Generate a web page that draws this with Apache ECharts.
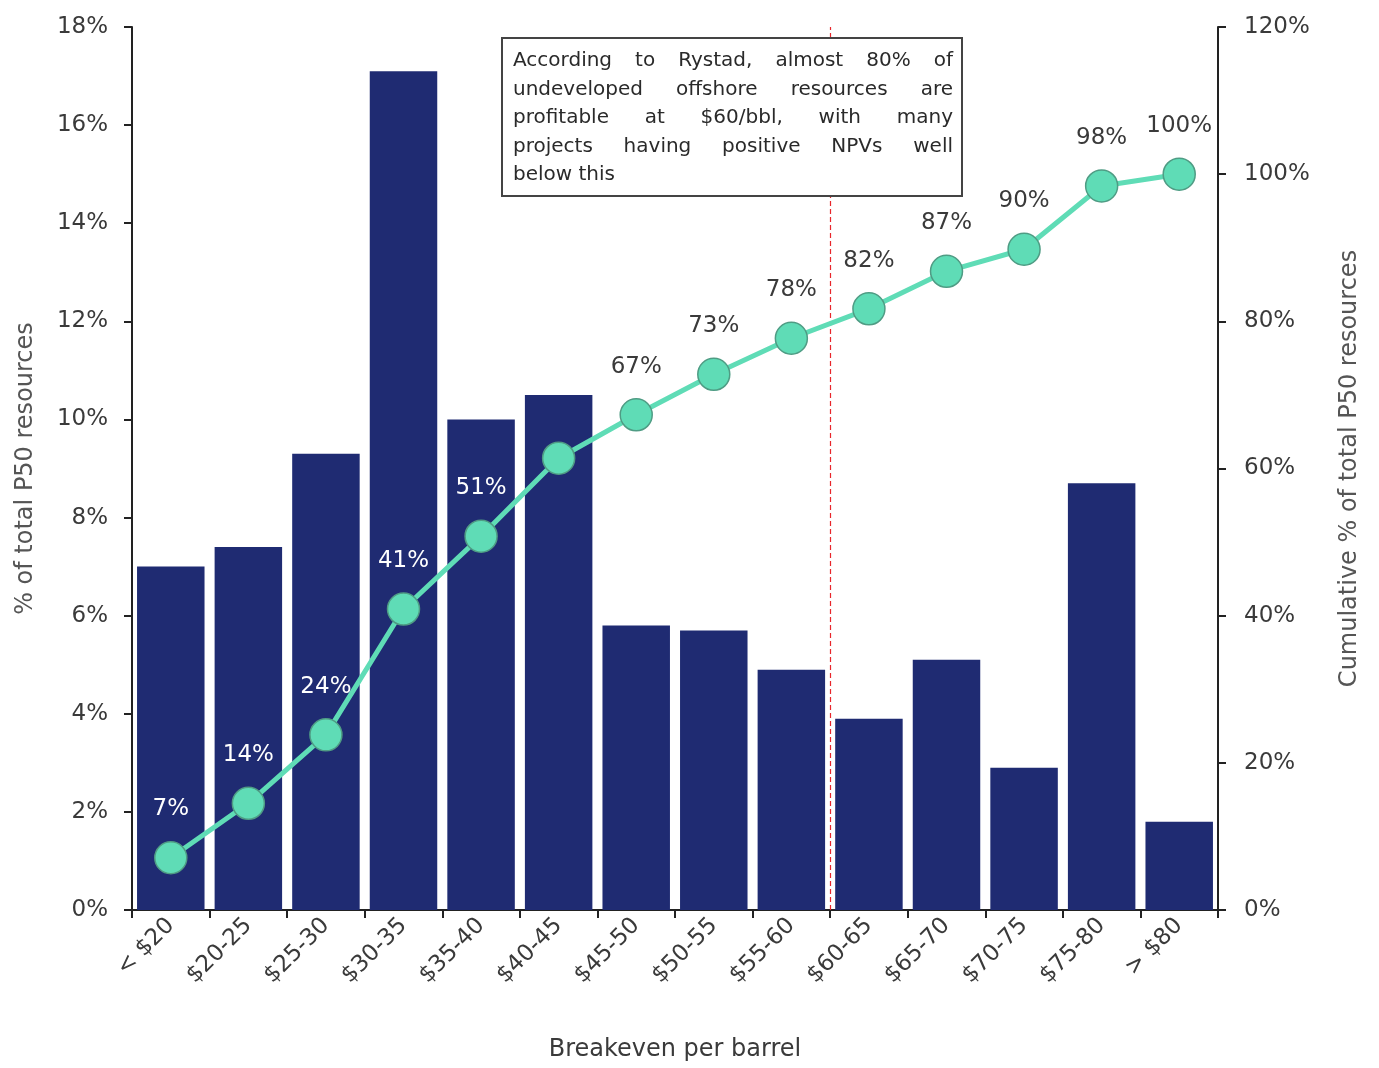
<!DOCTYPE html>
<html lang="en">
<head>
    <meta charset="UTF-8">
    <title>Breakeven per barrel</title>
    <script src="https://cdn.jsdelivr.net/npm/echarts@6.0.0/dist/echarts.min.js"></script>
    <style>
        * { box-sizing: border-box; margin: 0; padding: 0; }
        body { background: #fff; }
        #chart { width: 1379px; height: 1068px; }
    </style>
</head>
<body>
    <div id="chart"></div>

    <script>
        // data
        const categories = ['< $20', '$20-25', '$25-30', '$30-35', '$35-40', '$40-45', '$45-50',
            '$50-55', '$55-60', '$60-65', '$65-70', '$70-75', '$75-80', '> $80'];
        const sharePct = [7.0, 7.4, 9.3, 17.1, 10.0, 10.5, 5.8, 5.7, 4.9, 3.9, 5.1, 2.9, 8.7, 1.8];
        const cumulativePct = [7.1, 14.5, 23.8, 40.9, 50.8, 61.4, 67.3, 72.8, 77.7, 81.7, 86.8, 89.8, 98.4, 100];
        const cumulativeLabels = ['7%', '14%', '24%', '41%', '51%', '', '67%', '73%', '78%', '82%', '87%', '90%', '98%', '100%'];
        const leftTicks = { min: 0, max: 18, step: 2 };
        const rightTicks = { min: 0, max: 120, step: 20 };
        const cutoffBoundary = 9; // between $55-60 and $60-65
        const noteLines = [
            'According to Rystad, almost 80% of',
            'undeveloped offshore resources are',
            'profitable at $60/bbl, with many',
            'projects having positive NPVs well',
            'below this'
        ];

        const FONT = '"DejaVu Sans", sans-serif';
        const textCol = '#3a3a3a';

        const chart = echarts.init(document.getElementById('chart'));

        // justified text for the note box
        const measure = document.createElement('canvas').getContext('2d');
        const noteFont = '20px "DejaVu Sans"';
        measure.font = noteFont;
        const boxX = 502, boxY = 38, boxW = 460, boxH = 158;
        const textX = 513, textW = 440, lineH = 28.5, firstY = 61;
        const noteEls = [{
            type: 'rect',
            shape: { x: boxX, y: boxY, width: boxW, height: boxH },
            style: { fill: '#fff', stroke: '#444', lineWidth: 2 },
            z: 100
        }];
        noteLines.forEach(function (line, li) {
            const words = line.split(' ');
            const y = firstY + li * lineH;
            const last = li === noteLines.length - 1;
            const widths = words.map(w => measure.measureText(w).width);
            const total = widths.reduce((a, b) => a + b, 0);
            const gap = last || words.length < 2 ? measure.measureText(' ').width
                : (textW - total) / (words.length - 1);
            let x = textX;
            words.forEach(function (w, wi) {
                noteEls.push({
                    type: 'text',
                    x: x, y: y,
                    style: { text: w, font: noteFont, fill: '#2a2a2a', textVerticalAlign: 'middle' },
                    z: 101
                });
                x += widths[wi] + gap;
            });
        });

        const option = {
            animation: false,
            grid: { left: 132, right: 161, top: 27, bottom: 158 },
            xAxis: [{
                type: 'category',
                data: categories,
                name: 'Breakeven per barrel',
                nameLocation: 'middle',
                nameGap: 128,
                nameTextStyle: { fontFamily: FONT, fontSize: 24, color: textCol },
                axisLine: { lineStyle: { color: '#222', width: 2 } },
                axisTick: { show: true, length: 8, lineStyle: { color: '#222', width: 2 } },
                axisLabel: { rotate: 45, fontFamily: FONT, fontSize: 23, color: textCol, margin: 12 }
            }, {
                type: 'value',
                min: 0, max: categories.length,
                show: false
            }],
            yAxis: [{
                type: 'value',
                min: leftTicks.min, max: leftTicks.max, interval: leftTicks.step,
                name: '% of total P50 resources',
                nameLocation: 'middle',
                nameRotate: 90,
                nameGap: 94,
                nameTextStyle: { fontFamily: FONT, fontSize: 24, color: '#555' },
                splitLine: { show: false },
                axisLine: { show: true, lineStyle: { color: '#222', width: 2 } },
                axisTick: { show: true, length: 8, lineStyle: { color: '#222', width: 2 } },
                axisLabel: { formatter: '{value}%', fontFamily: FONT, fontSize: 23, color: textCol, margin: 24 }
            }, {
                type: 'value',
                position: 'right',
                min: rightTicks.min, max: rightTicks.max, interval: rightTicks.step,
                name: 'Cumulative % of total P50 resources',
                nameLocation: 'middle',
                nameRotate: 90,
                nameGap: 120,
                nameTextStyle: { fontFamily: FONT, fontSize: 24, color: '#555' },
                splitLine: { show: false },
                axisLine: { show: true, lineStyle: { color: '#222', width: 2 } },
                axisTick: { show: true, length: 8, lineStyle: { color: '#222', width: 2 } },
                axisLabel: { formatter: '{value}%', fontFamily: FONT, fontSize: 23, color: textCol, margin: 26 }
            }],
            series: [{
                name: 'Share',
                type: 'bar',
                data: sharePct,
                barCategoryGap: '13%',
                itemStyle: { color: '#1f2b72' },
                z: 2
            }, {
                name: 'Cutoff',
                type: 'line',
                xAxisIndex: 1,
                yAxisIndex: 0,
                data: [[cutoffBoundary, 0]],
                symbol: 'none',
                silent: true,
                markLine: {
                    symbol: 'none',
                    silent: true,
                    label: { show: false },
                    lineStyle: { color: '#e8262b', type: [5, 3], width: 1.2 },
                    data: [{ xAxis: cutoffBoundary }]
                },
                z: 3
            }, {
                name: 'Cumulative',
                type: 'line',
                yAxisIndex: 1,
                data: cumulativePct.map(function (v, i) {
                    return {
                        value: v,
                        label: {
                            formatter: cumulativeLabels[i],
                            color: i < 5 ? '#ffffff' : '#3a3a3a'
                        }
                    };
                }),
                symbol: 'circle',
                symbolSize: 32,
                lineStyle: { color: '#5fdcb6', width: 5 },
                itemStyle: { color: '#5fdcb6', borderColor: '#4f9c84', borderWidth: 1.5 },
                label: {
                    show: true,
                    position: 'top',
                    distance: 20,
                    fontFamily: FONT,
                    fontSize: 23
                },
                z: 5
            }],
            graphic: noteEls
        };
        chart.setOption(option);
    </script>
</body>
</html>
